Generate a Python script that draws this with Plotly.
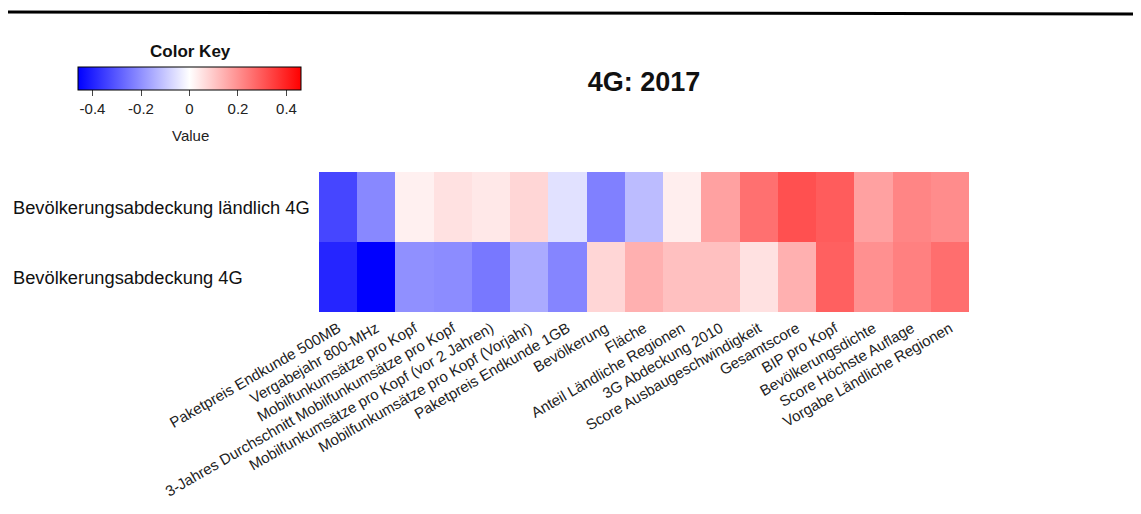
import plotly.graph_objects as go

columns = [
    "Paketpreis Endkunde 500MB",
    "Vergabejahr 800-MHz",
    "Mobilfunkumsätze pro Kopf",
    "3-Jahres Durchschnitt Mobilfunkumsätze pro Kopf",
    "Mobilfunkumsätze pro Kopf (vor 2 Jahren)",
    "Mobilfunkumsätze pro Kopf (Vorjahr)",
    "Paketpreis Endkunde 1GB",
    "Bevölkerung",
    "Fläche",
    "Anteil Ländliche Regionen",
    "3G Abdeckung 2010",
    "Score Ausbaugeschwindigkeit",
    "Gesamtscore",
    "BIP pro Kopf",
    "Bevölkerungsdichte",
    "Score Höchste Auflage",
    "Vorgabe Ländliche Regionen",
]
rows = ["Bevölkerungsabdeckung 4G", "Bevölkerungsabdeckung ländlich 4G"]

values_laendlich = [-0.334, -0.215, 0.027, 0.055, 0.041, 0.074, -0.055, -0.23, -0.12,
                    0.03, 0.17, 0.258, 0.315, 0.294, 0.17, 0.22, 0.207]
values_gesamt = [-0.393, -0.46, -0.20, -0.207, -0.244, -0.152, -0.22, 0.074, 0.143,
                 0.113, 0.113, 0.055, 0.143, 0.287, 0.20, 0.23, 0.262]

key_ticks = [-0.4, -0.2, 0, 0.2, 0.4]
key_labels = ["-0.4", "-0.2", "0", "0.2", "0.4"]

OFF = 8  # page body margin
W, H = 1141 - OFF, 514 - 2 * OFF
L, R, T, B = 319, 969, 172, 312  # plot area in reference pixels
pw, ph = R - L, B - T

def px_x(x):
    return (x - L) / pw

def px_y(y):
    return (B - y) / ph

FONT = "Liberation Sans, Arial, sans-serif"

fig = go.Figure(go.Heatmap(
    z=[values_gesamt, values_laendlich],
    x=columns,
    y=rows,
    zmin=-0.46, zmax=0.46,
    colorscale=[[0, "#0000FF"], [0.5, "#FFFFFF"], [1, "#FF0000"]],
    colorbar=dict(
        orientation="h",
        lenmode="pixels", len=223,
        thickness=23,
        thicknessmode="pixels",
        x=px_x(189.5), xanchor="center",
        y=px_y(67), yanchor="top",
        xpad=0, ypad=0,
        outlinecolor="black", outlinewidth=1,
        tickvals=key_ticks, ticktext=key_labels,
        ticks="outside", ticklen=6, tickcolor="#444",
        tickfont=dict(size=15, color="#222", family=FONT),
    ),
    hoverongaps=False,
))

fig.update_layout(
    width=W, height=H,
    margin=dict(l=L - OFF, r=W - (R - OFF), t=T - OFF, b=H - (B - OFF)),
    paper_bgcolor="white", plot_bgcolor="white",
    font=dict(family=FONT, color="#222"),
    title=dict(text="<b>4G: 2017</b>", x=(644 - OFF) / W, xanchor="center",
               y=1 - (82 - OFF) / H, yanchor="middle",
               font=dict(size=27, color="#111", family=FONT)),
    xaxis=dict(tickangle=-30, ticks="", showgrid=False, zeroline=False,
               tickfont=dict(size=15, color="#222", family=FONT),
               ticklabelstandoff=4, showline=False, automargin=False),
    yaxis=dict(showticklabels=False, ticks="", showgrid=False, zeroline=False,
               automargin=False),
    showlegend=False,
)

for r in rows:
    fig.add_annotation(x=px_x(11), xref="paper", y=r, yref="y", text=r,
                       showarrow=False, xanchor="left", yanchor="middle",
                       font=dict(size=18.3, color="#111", family=FONT))

fig.add_annotation(x=px_x(190), xref="paper", y=px_y(52), yref="paper",
                   text="<b>Color Key</b>", showarrow=False, xanchor="center",
                   yanchor="middle", font=dict(size=17, color="#111", family=FONT))

fig.add_annotation(x=px_x(190), xref="paper", y=px_y(135), yref="paper",
                   text="Value", showarrow=False, xanchor="center", yanchor="middle",
                   font=dict(size=15, color="#222", family=FONT))

fig.add_shape(type="line", xref="paper", yref="paper",
              x0=px_x(5), x1=px_x(1141), y0=px_y(12), y1=px_y(14),
              line=dict(color="black", width=3))

fig.write_html("out.html")
